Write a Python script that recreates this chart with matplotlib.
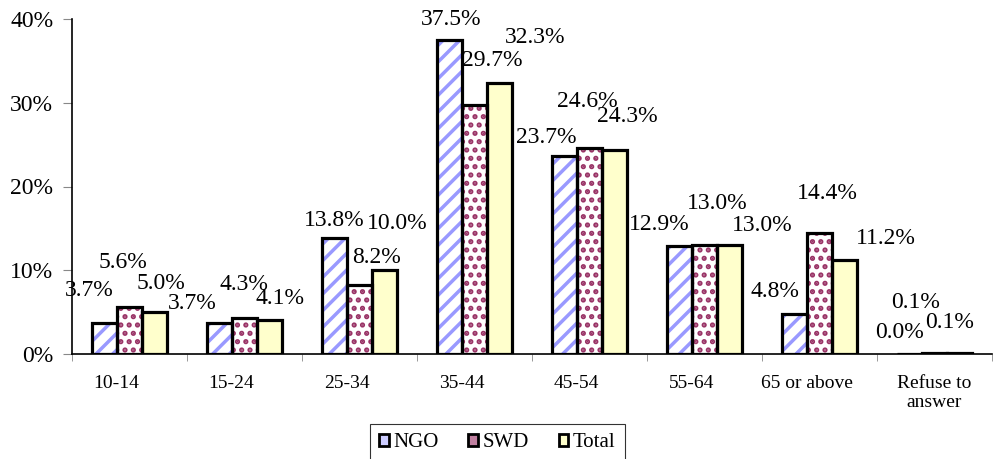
import matplotlib
matplotlib.use("Agg")
import matplotlib.pyplot as plt
import matplotlib.transforms as mtransforms
import numpy as np
from matplotlib.patches import Patch

categories = ["10-14", "15-24", "25-34", "35-44", "45-54", "55-64", "65 or above", "Refuse to\nanswer"]
ngo = [3.7, 3.7, 13.8, 37.5, 23.7, 12.9, 4.8, 0.0]
swd = [5.6, 4.3, 8.2, 29.7, 24.6, 13.0, 14.4, 0.1]
total = [5.0, 4.1, 10.0, 32.3, 24.3, 13.0, 11.2, 0.1]
yticks = [0, 10, 20, 30, 40]

# label offsets in pixels (dx, dy up) relative to bar top centre
off_ngo = [(-15, 33), (-27, 20), (0, 18), (2, 20), (-17.5, 18), (-20, 21), (-19.5, 22), (-10, 22)]
off_swd = [(-7, 45), (-1, 33), (17, 28), (17.5, 45), (-2, 46), (13, 42), (8, 40), (-19, 51)]
off_tot = [(6, 29), (10, 21), (12, 47), (35, 46), (13, 34), (32, 20), (41, 22), (-10.5, 31)]

plt.rcParams['font.family'] = ['Liberation Serif', 'DejaVu Serif']
plt.rcParams['hatch.linewidth'] = 2.5

fig = plt.figure(figsize=(9.95, 4.59), dpi=100)
ax = fig.add_axes([72/995, 1-354/459, 920/995, (354-19)/459])

x = np.arange(len(categories))
w = 0.22
series = [
    (ngo, -w, dict(facecolor='white', edgecolor='#9999FF', hatch='//'), off_ngo),
    (swd, 0, dict(facecolor='white', edgecolor='#993366', hatch='..'), off_swd),
    (total, w, dict(facecolor='#FFFFCC', edgecolor='#FFFFCC', hatch=None), off_tot),
]
for vals, dx, sty, offs in series:
    ax.bar(x + dx, vals, width=w, linewidth=0, zorder=2, **sty)
    ax.bar(x + dx, vals, width=w, facecolor='none', edgecolor='black', linewidth=2.3, zorder=3)
    for xi, v, (ox, oy) in zip(x + dx, vals, offs):
        ax.annotate(f"{v:.1f}%", (xi, v), xytext=(ox * 0.72, oy * 0.72), textcoords='offset points',
                    ha='center', va='center', fontsize=17, zorder=4)

ax.set_xlim(-0.5, len(categories) - 0.5)
ax.set_ylim(0, 40)
ax.set_yticks(yticks)
ax.set_yticklabels([f"{t}%" for t in yticks], fontsize=17)
ax.set_xticks(x)
ax.set_xticklabels(categories, fontsize=14)
ax.tick_params(axis='x', length=0, pad=15)
shift = mtransforms.ScaledTranslation(-13/100, 0, fig.dpi_scale_trans)
for lbl in ax.get_xticklabels()[:-1]:
    lbl.set_transform(lbl.get_transform() + shift)
ax.set_xticks(np.arange(len(categories) + 1) - 0.5, minor=True)
ax.tick_params(axis='x', which='minor', length=5, color='#888888', direction='out')
ax.tick_params(axis='y', length=6.5, color='#888888', direction='out', pad=7)
for s in ['top', 'right']:
    ax.spines[s].set_visible(False)
ax.spines['left'].set_linewidth(1.2)
ax.spines['bottom'].set_linewidth(1.2)

handles = [
    Patch(facecolor='#CCCCFF', edgecolor='black', linewidth=2),
    Patch(facecolor='#C080A0', edgecolor='black', linewidth=2),
    Patch(facecolor='#FFFFCC', edgecolor='black', linewidth=2),
]
leg = fig.legend(handles, ['NGO', 'SWD', 'Total'], loc='upper center', bbox_to_anchor=(0.5, 1 - 424/459),
                 ncol=3, fontsize=15, frameon=True, fancybox=False, edgecolor='black',
                 handlelength=0.45, handleheight=0.45, handletextpad=0.25, columnspacing=1.4,
                 borderpad=0.45, borderaxespad=0)
leg.get_frame().set_linewidth(0.8)

fig.savefig("out.png", dpi=100)
